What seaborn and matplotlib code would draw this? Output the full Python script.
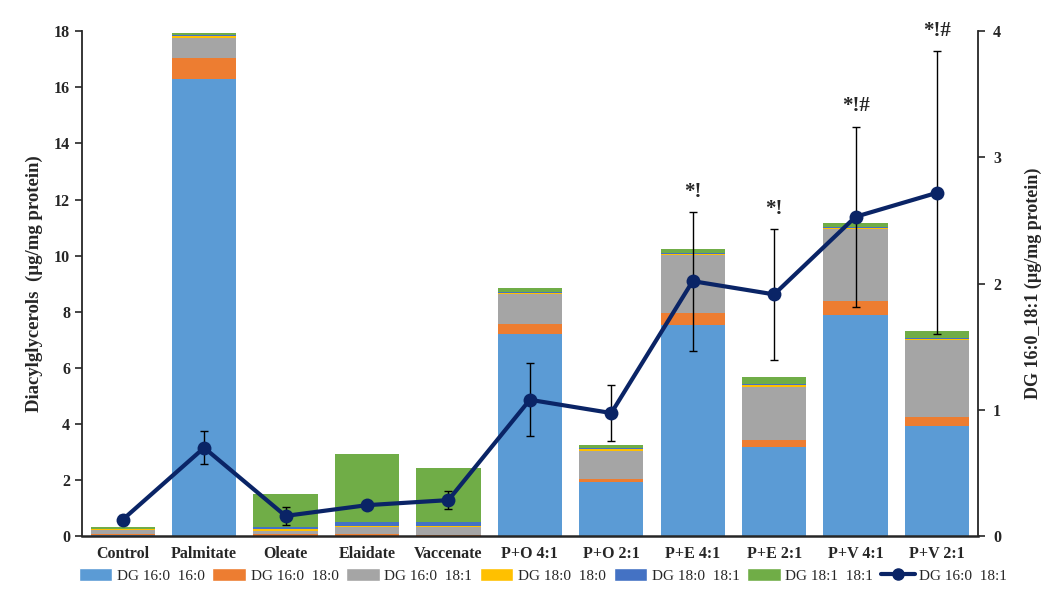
import numpy as np
import pandas as pd
import matplotlib
matplotlib.use('Agg')
import matplotlib.pyplot as plt
import seaborn as sns
from matplotlib.patches import Patch
from matplotlib.lines import Line2D

# Datos
categorias = ['Control', 'Palmitate', 'Oleate', 'Elaidate', 'Vaccenate',
              'P+O 4:1', 'P+O 2:1', 'P+E 4:1', 'P+E 2:1', 'P+V 4:1', 'P+V 2:1']
dg160_160 = [0.05, 16.3, 0.02, 0.02, 0.02, 7.20, 1.94, 7.53, 3.19, 7.88, 3.92]
dg160_180 = [0.03, 0.75, 0.05, 0.04, 0.03, 0.35, 0.09, 0.44, 0.23, 0.51, 0.32]
dg160_181 = [0.12, 0.70, 0.12, 0.27, 0.27, 1.08, 1.02, 2.04, 1.90, 2.56, 2.74]
dg180_180 = [0.04, 0.07, 0.05, 0.03, 0.05, 0.05, 0.05, 0.05, 0.05, 0.05, 0.05]
dg180_181 = [0.02, 0.03, 0.07, 0.14, 0.15, 0.04, 0.04, 0.03, 0.06, 0.03, 0.05]
dg181_181 = [0.05, 0.10, 1.19, 2.42, 1.91, 0.14, 0.12, 0.14, 0.25, 0.15, 0.25]

# DG 16:0_18:1 (eje derecho)
linea_media = [0.13, 0.70, 0.16, 0.245, 0.285, 1.08, 0.975, 2.02, 1.915, 2.53, 2.72]
linea_err = [0.04, 0.13, 0.07, 0.03, 0.07, 0.29, 0.225, 0.55, 0.52, 0.715, 1.12]
signif = ['', '', '', '', '', '', '', '*!', '*!', '*!#', '*!#']

series = ['DG 16:0  16:0', 'DG 16:0  18:0', 'DG 16:0  18:1',
          'DG 18:0  18:0', 'DG 18:0  18:1', 'DG 18:1  18:1']
valores = [dg160_160, dg160_180, dg160_181, dg180_180, dg180_181, dg181_181]
colores = ['#5B9BD5', '#ED7D31', '#A5A5A5', '#FFC000', '#4472C4', '#70AD47']
color_linea = '#0A2466'

sns.set_style('white')
plt.rcParams['font.family'] = ['Liberation Serif', 'DejaVu Serif']

fig = plt.figure(figsize=(10.44, 6.01), dpi=100)
ax = fig.add_axes([0.0785, 0.108, 0.858, 0.840])

# Barras apiladas: se dibujan las sumas acumuladas de arriba hacia abajo
df = pd.DataFrame(dict(zip(series, valores)))
df['cat'] = categorias
acum = df[series].cumsum(axis=1)
for s, c in zip(series[::-1], colores[::-1]):
    sns.barplot(x=df['cat'], y=acum[s], color=c, width=0.79, ax=ax,
                linewidth=0, saturation=1, order=categorias)

ax.set_xlim(-0.5, 10.5)
ax.set_ylim(0, 18)
ax.set_yticks(np.arange(0, 19, 2))
ax.set_xlabel('')
ax.set_ylabel('Diacylglycerols  (µg/mg protein)', fontsize=13.5, fontweight='bold', labelpad=8)
ax.tick_params(axis='x', length=0, labelsize=11.5, pad=7)
ax.tick_params(axis='y', length=5, width=1.2, direction='out', labelsize=11.5, left=True)
for lab in ax.get_xticklabels() + ax.get_yticklabels():
    lab.set_fontweight('bold')
ax.spines['top'].set_visible(False)
ax.spines['right'].set_visible(False)
ax.spines['left'].set_linewidth(1.3)
ax.spines['bottom'].set_linewidth(1.8)

# Eje derecho con la linea
ax2 = ax.twinx()
x = np.arange(len(categorias))
ax2.errorbar(x, linea_media, yerr=linea_err, fmt='none', ecolor='black',
             elinewidth=1, capsize=3, capthick=1, zorder=2)
sns.lineplot(x=x, y=linea_media, ax=ax2, color=color_linea, linewidth=3,
             marker='o', markersize=10, markeredgewidth=0, zorder=3)
for xi, m, e, t in zip(x, linea_media, linea_err, signif):
    if t:
        ax2.text(xi, m + e + 0.08, t, ha='center', va='bottom', fontsize=15, fontweight='bold')
ax2.set_ylim(0, 4)
ax2.set_yticks([0, 1, 2, 3, 4])
ax2.set_ylabel('DG 16:0_18:1 (µg/mg protein)', fontsize=13, fontweight='bold', labelpad=17)
ax2.tick_params(axis='y', length=5, width=1.2, direction='out', labelsize=11.5, right=True, pad=6)
for lab in ax2.get_yticklabels():
    lab.set_fontweight('bold')
ax2.spines['top'].set_visible(False)
ax2.spines['left'].set_visible(False)
ax2.spines['bottom'].set_visible(False)
ax2.spines['right'].set_linewidth(1.3)
ax2.set_xlim(-0.5, 10.5)

# Leyenda inferior
handles = [Patch(facecolor=c, label=s) for s, c in zip(series, colores)]
handles.append(Line2D([], [], color=color_linea, lw=3, marker='o', markersize=8,
                      label='DG 16:0  18:1'))
fig.legend(handles=handles, loc='center', bbox_to_anchor=(0.52, 0.042), ncol=7,
           frameon=False, fontsize=11, handlelength=2.2, handleheight=0.9,
           handletextpad=0.3, columnspacing=0.5)

fig.savefig('out.png', dpi=100)
